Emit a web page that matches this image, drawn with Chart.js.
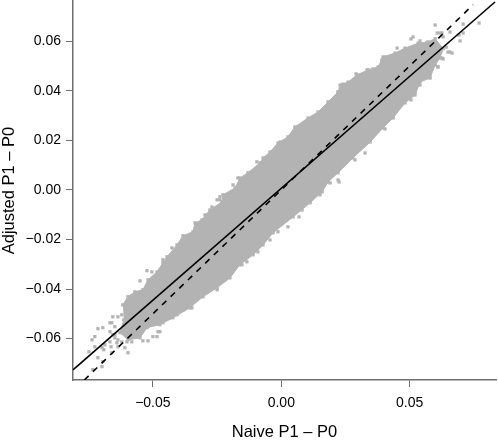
<!DOCTYPE html>
<html>
<head>
<meta charset="utf-8">
<title>Adjusted vs naive</title>
<script src="https://cdn.jsdelivr.net/npm/chart.js@4/dist/chart.umd.min.js"></script>
<style>
  html, body { margin: 0; padding: 0; background: #fff; }
  canvas { display: block; }
</style>
</head>
<body>
<canvas id="scatterChart" width="498" height="440"></canvas>
<script>
// x, y pairs
const xTicks = [-0.05, 0, 0.05];
const yTicks = [-0.06, -0.04, -0.02, 0, 0.02, 0.04, 0.06];

// the dense part of the cloud, traced round its edge
const cloudEdge = [
  [-0.0617,-0.0464],[-0.0597,-0.0431],[-0.0570,-0.0411],[-0.0539,-0.0403],[-0.0519,-0.0363],[-0.0484,-0.0331],
  [-0.0461,-0.0294],[-0.0445,-0.0270],[-0.0406,-0.0222],[-0.0383,-0.0185],[-0.0344,-0.0169],[-0.0336,-0.0133],
  [-0.0309,-0.0121],[-0.0278,-0.0081],[-0.0231,-0.0048],[-0.0227,-0.0020],[-0.0180,0.0008],[-0.0161,0.0048],
  [-0.0130,0.0069],[-0.0083,0.0109],[-0.0071,0.0129],[-0.0044,0.0153],[-0.0013,0.0189],[0.0026,0.0214],
  [0.0053,0.0254],[0.0104,0.0290],[0.0143,0.0314],[0.0182,0.0355],[0.0221,0.0395],[0.0229,0.0423],
  [0.0260,0.0435],[0.0295,0.0464],[0.0338,0.0484],[0.0377,0.0496],[0.0396,0.0536],[0.0443,0.0552],
  [0.0482,0.0572],[0.0533,0.0592],[0.0571,0.0597],[0.0599,0.0610],[0.0630,0.0570],
  [0.0618,0.0532],[0.0599,0.0504],[0.0579,0.0451],[0.0540,0.0435],[0.0521,0.0383],
  [0.0482,0.0351],[0.0435,0.0290],[0.0396,0.0250],[0.0346,0.0193],[0.0279,0.0129],[0.0221,0.0069],
  [0.0182,0.0032],[0.0159,-0.0008],[0.0112,-0.0052],[0.0046,-0.0109],[-0.0032,-0.0173],[-0.0071,-0.0222],
  [-0.0110,-0.0262],[-0.0161,-0.0302],[-0.0200,-0.0355],[-0.0250,-0.0395],[-0.0305,-0.0431],[-0.0356,-0.0476],
  [-0.0422,-0.0516],[-0.0473,-0.0544],[-0.0523,-0.0556],[-0.0550,-0.0597],[-0.0597,-0.0605],[-0.0628,-0.0576],
  [-0.0613,-0.0524]
];

// single points that sit outside the dense part
const strayPoints = [
  [-0.0737,-0.0605],[-0.0714,-0.0560],[-0.0695,-0.0556],[-0.0749,-0.0653],[-0.0726,-0.0633],[-0.0698,-0.0637],
  [-0.0687,-0.0625],[-0.0660,-0.0536],[-0.0648,-0.0552],[-0.0667,-0.0572],[-0.0636,-0.0512],[-0.0621,-0.0504],
  [-0.0714,-0.0677],[-0.0695,-0.0693],[-0.0698,-0.0713],[-0.0734,-0.0725],[-0.0636,-0.0633],[-0.0609,-0.0637],
  [-0.0597,-0.0657],[-0.0621,-0.0613],[-0.0582,-0.0613],[-0.0539,-0.0609],[-0.0519,-0.0609],[-0.0500,-0.0592],
  [-0.0484,-0.0592],[-0.0473,-0.0572],[-0.0523,-0.0326],[-0.0504,-0.0331],[-0.0550,-0.0367],[-0.0461,-0.0282],
  [-0.0426,-0.0234],[-0.0667,-0.0613],[-0.0648,-0.0597],[-0.0656,-0.0584],[-0.0691,-0.0645],[-0.0660,-0.0657],
  [-0.0640,-0.0617],[0.0599,0.0665],[0.0708,0.0669],[0.0770,0.0673],[0.0513,0.0617],[0.0540,0.0601],
  [0.0451,0.0572],[0.0404,0.0536],[0.0392,0.0520],[0.0291,0.0468],[0.0334,0.0484],[0.0240,0.0427],
  [0.0221,0.0395],[-0.0095,0.0113],[0.0696,0.0601],[0.0657,0.0556],[0.0665,0.0552],[0.0626,0.0532],
  [0.0610,0.0496],[0.0708,0.0633],[0.0642,0.0576],[0.0579,0.0455],[0.0435,0.0294],[0.0404,0.0246],
  [0.0326,0.0149],[0.0287,0.0121],[0.0225,0.0032],[0.0190,0.0028],[0.0069,-0.0109],[0.0692,0.0625],
  [0.0657,0.0637],[0.0626,0.0633],[0.0568,0.0592],[-0.0169,0.0048],[-0.0188,0.0020],[-0.0250,-0.0040],
  [-0.0289,-0.0101],[-0.0239,-0.0028],
  [0.0326,0.0464],[0.0357,0.0488],[0.0392,0.0524],[0.0462,0.0544],[0.0505,0.0609],[0.0536,0.0584],
  [0.0568,0.0576],[0.0607,0.0633],[0.0618,0.0633],[0.0630,0.0617],[0.0649,0.0556],[0.0630,0.0528],
  [0.0610,0.0496],[0.0571,0.0472],[0.0540,0.0423],[0.0521,0.0395],[0.0505,0.0363],
  [0.0026,-0.0149],[-0.0013,-0.0169],[-0.0044,-0.0202],[-0.0091,-0.0250],[-0.0134,-0.0290],[-0.0153,-0.0302],
  [0.0221,0.0040],[0.0151,-0.0020],[0.0112,-0.0048],[0.0081,-0.0081],
  [-0.0219,-0.0363],[-0.0250,-0.0403],[-0.0348,-0.0476],[-0.0383,-0.0484],[-0.0406,-0.0504],[-0.0434,-0.0516],
  [-0.0461,-0.0536],[-0.0480,-0.0572],
  [-0.0270,-0.0069],[-0.0297,-0.0101],[-0.0383,-0.0222],[-0.0239,-0.0040],[0.0190,0.0343],[0.0229,0.0391],
  [-0.0005,0.0193],[0.0065,0.0254],
  [-0.0609,-0.0464],[-0.0656,-0.0512],[-0.0667,-0.0536],[-0.0726,-0.0592],[-0.0663,-0.0633],[-0.0601,-0.0613],
  [-0.0636,-0.0605],[-0.0648,-0.0584]
];

const fitLine = [[-0.0811,-0.0726],[0.0832,0.0758]];
const identityLine = [[-0.0767,-0.0767],[0.0747,0.0747]];

const greyDots = '#b3b3b3';
const axisGrey = '#6e6e6e';
const textFont = '"Liberation Sans", Arial, sans-serif';

function toPoints(pairs) {
  return pairs.map(p => ({ x: p[0], y: p[1] }));
}

function tickText(value) {
  return (value < 0 ? '\u2212' : '') + Math.abs(value).toFixed(2);
}

const ctx = document.getElementById('scatterChart').getContext('2d');

new Chart(ctx, {
  type: 'scatter',
  data: {
    datasets: [
      {
        data: toPoints(identityLine),
        showLine: true,
        borderColor: '#000',
        borderWidth: 1.6,
        borderDash: [6, 6],
        pointRadius: 0,
        order: 1
      },
      {
        data: toPoints(fitLine),
        showLine: true,
        borderColor: '#000',
        borderWidth: 1.6,
        pointRadius: 0,
        order: 0
      },
      {
        data: toPoints(cloudEdge),
        showLine: true,
        fill: 'shape',
        backgroundColor: greyDots,
        borderColor: greyDots,
        borderWidth: 1,
        pointStyle: 'rect',
        pointRadius: 2.3,
        pointBackgroundColor: greyDots,
        pointBorderWidth: 0,
        order: 3
      },
      {
        data: toPoints(strayPoints),
        pointStyle: 'rect',
        pointRadius: 2.3,
        pointBackgroundColor: greyDots,
        pointBorderWidth: 0,
        order: 2
      }
    ]
  },
  options: {
    responsive: false,
    animation: false,
    layout: { autoPadding: false, padding: { top: 1, right: 2, left: 0, bottom: 0 } },
    plugins: { legend: { display: false }, tooltip: { enabled: false } },
    scales: {
      x: {
        type: 'linear',
        min: -0.0811,
        max: 0.0836,
        afterBuildTicks: scale => { scale.ticks = xTicks.map(v => ({ value: v })); },
        afterFit: scale => { scale.height = 60; scale.paddingLeft = 0; scale.paddingRight = 0; },
        border: { display: true, color: axisGrey, width: 1.5 },
        grid: { drawOnChartArea: false, drawTicks: true, tickLength: 7, tickColor: axisGrey, tickWidth: 1 },
        ticks: {
          callback: tickText,
          autoSkip: false,
          maxRotation: 0,
          padding: 8,
          color: '#000',
          font: { family: textFont, size: 14 }
        },
        title: {
          display: true,
          text: 'Naive P1 \u2013 P0',
          color: '#000',
          font: { family: textFont, size: 16.5 },
          padding: { top: 0, bottom: -2 }
        }
      },
      y: {
        type: 'linear',
        min: -0.0767,
        max: 0.0762,
        afterBuildTicks: scale => { scale.ticks = yTicks.map(v => ({ value: v })); },
        afterFit: scale => { scale.width = 73; scale.paddingTop = 0; scale.paddingBottom = 0; },
        border: { display: true, color: axisGrey, width: 1.5 },
        grid: { drawOnChartArea: false, drawTicks: true, tickLength: 7, tickColor: axisGrey, tickWidth: 1 },
        ticks: {
          callback: tickText,
          autoSkip: false,
          padding: 5,
          color: '#000',
          font: { family: textFont, size: 14 }
        },
        title: {
          display: true,
          text: 'Adjusted P1 \u2013 P0',
          color: '#000',
          font: { family: textFont, size: 16.5 },
          padding: { top: 0, bottom: 0 }
        }
      }
    }
  }
});
</script>
</body>
</html>
